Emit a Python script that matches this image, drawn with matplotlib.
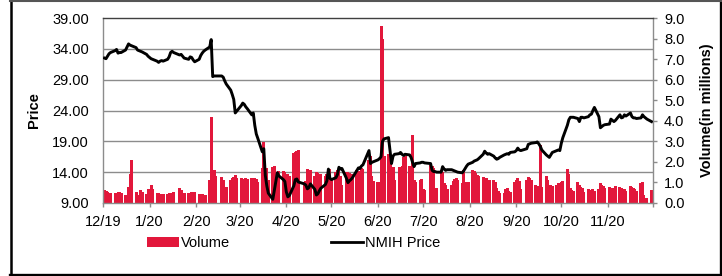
import matplotlib
matplotlib.use('Agg')
import matplotlib.pyplot as plt
import matplotlib.transforms as mtransforms
from matplotlib.patches import Patch
from matplotlib.lines import Line2D
import pandas as pd
import numpy as np

plt.rcParams['font.family'] = ['Liberation Sans', 'DejaVu Sans']

# ---------------- data ----------------
holidays = ['2019-12-25', '2020-01-01', '2020-01-20', '2020-02-17', '2020-04-10',
            '2020-05-25', '2020-07-03', '2020-09-07', '2020-11-26']
dates = pd.bdate_range('2019-12-02', '2020-11-30', freq='C', holidays=holidays)

price_dec = [32.5, 32.4, 32.8, 33.2, 33.4, 33.7, 33.9, 33.3, 33.4, 33.4, 33.8, 34.3, 34.8, 34.6, 34.5, 34.2, 33.8, 33.6, 33.5, 33.1, 32.8]
price_jan = [32.4, 32.3, 32.0, 31.8, 32.0, 32.1, 32.0, 32.3, 32.7, 33.4, 33.6, 33.4, 33.0, 33.1, 32.8, 32.5, 32.3, 32.7, 32.6, 32.2, 31.9]
price_feb = [32.3, 32.9, 33.3, 33.6, 33.8, 34.3, 35.5, 29.5, 29.6, 29.6, 29.6, 29.4, 28.8, 28.3, 27.3, 26.6, 25.8, 23.6, 23.9]
price_mar = [24.8, 25.2, 25.0, 24.6, 24.3, 23.3, 23.6, 21.6, 20.2, 19.5, 17.3, 17.8, 13.5, 11.8, 10.6, 9.6, 11.0, 12.5, 13.9, 13.4, 12.8, 12.5]
price_apr = [10.8, 10.0, 10.2, 11.8, 12.8, 12.9, 12.4, 12.1, 11.9, 11.3, 11.5, 12.1, 11.2, 10.3, 10.5, 11.0, 11.4, 12.0, 12.6, 14.5, 13.0]
price_may = [12.8, 13.1, 13.6, 14.8, 14.5, 14.6, 13.0, 12.3, 12.6, 12.8, 13.1, 14.3, 14.7, 14.6, 15.0, 15.2, 17.5, 15.4, 15.6, 15.7]
price_jun = [16.0, 16.2, 16.5, 19.0, 19.4, 19.6, 17.5, 15.4, 16.6, 16.9, 17.0, 17.2, 16.9, 16.7, 16.9, 16.8, 16.4, 15.6, 14.9, 15.4, 15.5, 15.6]
price_jul = [15.6, 15.5, 15.4, 14.3, 14.1, 14.1, 14.0, 14.0, 14.9, 14.5, 14.3, 14.4, 14.4, 14.3, 14.2, 14.1, 14.0, 13.9, 14.2, 14.6, 15.0, 15.3]
price_aug = [15.6, 15.8, 15.9, 16.0, 16.2, 16.9, 17.4, 17.1, 16.9, 17.0, 16.6, 16.3, 16.1, 16.2, 16.4, 16.8, 16.9, 17.0, 16.9, 17.2, 17.3]
price_sep = [17.5, 17.9, 17.6, 17.5, 17.8, 18.5, 18.6, 18.7, 18.8, 18.9, 18.6, 18.2, 17.6, 16.8, 16.6, 16.4, 16.8, 17.2, 17.5, 17.6, 17.5]
price_oct = [18.7, 19.6, 21.6, 22.5, 22.9, 22.9, 22.9, 22.7, 22.2, 22.9, 22.9, 22.8, 23.0, 23.3, 23.4, 24.0, 24.5, 23.0, 21.2, 21.4, 21.6, 21.7]
price_nov = [21.8, 22.6, 22.4, 22.2, 22.4, 23.3, 22.8, 22.9, 23.3, 23.1, 23.6, 23.0, 22.8, 22.8, 22.7, 22.8, 23.3, 23.0, 22.6, 22.2]

vol_dec = [0.65, 0.6, 0.55, 0.5, 0.5, 0.5, 0.45, 0.52, 0.52, 0.5, 0.4, 0.4, 0.8, 1.4, 2.1, 0.55, 0.4, 0.63, 0.55, 0.45, 0.7]
vol_jan = [0.88, 0.7, 0.47, 0.47, 0.45, 0.42, 0.45, 0.42, 0.5, 0.5, 0.5, 0.55, 0.75, 0.62, 0.5, 0.48, 0.48, 0.5, 0.55, 0.55, 0.55]
vol_feb = [0.45, 0.4, 0.42, 0.4, 0.38, 1.1, 4.2, 1.6, 1.6, 1.3, 1.25, 1.1, 0.75, 0.8, 1.1, 1.2, 1.25, 1.35, 1.2]
vol_mar = [1.2, 1.1, 1.15, 1.2, 1.15, 1.2, 1.15, 1.2, 1.15, 1.0, 1.7, 2.95, 1.7, 1.7, 1.1, 1.75, 1.8, 1.4, 1.45, 1.55, 1.55, 1.5]
vol_apr = [1.4, 1.4, 1.3, 2.45, 2.5, 2.55, 2.6, 1.0, 1.05, 1.65, 1.6, 1.6, 1.3, 1.5, 1.45, 1.35, 1.4, 1.3, 1.4, 1.3, 1.65]
vol_may = [1.2, 1.5, 1.6, 1.55, 1.3, 0.9, 1.5, 1.5, 1.45, 1.35, 1.4, 1.6, 1.55, 1.4, 1.7, 1.65, 2.1, 2.3, 1.3, 1.05]
vol_jun = [1.0, 1.0, 8.6, 8.0, 2.3, 2.4, 2.1, 1.75, 1.75, 1.1, 1.75, 1.75, 1.8, 2.25, 2.3, 1.8, 1.8, 3.3, 1.1, 1.0, 1.1, 1.15]
vol_jul = [0.7, 0.65, 1.85, 1.8, 1.7, 0.7, 0.75, 1.6, 1.5, 0.95, 0.9, 0.7, 0.9, 1.05, 1.15, 1.2, 1.1, 0.95, 1.6, 1.0, 0.95, 1.0]
vol_aug = [1.6, 1.55, 1.45, 1.35, 1.3, 1.25, 1.2, 1.2, 1.0, 1.1, 1.1, 1.0, 0.75, 0.6, 0.5, 0.5, 0.7, 0.75, 0.6, 0.55, 1.0]
vol_sep = [1.1, 1.2, 1.05, 0.7, 1.1, 1.25, 1.2, 1.1, 0.9, 0.85, 0.8, 2.8, 0.8, 1.3, 1.1, 0.7, 0.9, 0.85, 0.9, 0.95, 0.85]
vol_oct = [1.0, 1.05, 1.65, 1.4, 0.75, 0.65, 0.6, 1.0, 0.9, 0.8, 0.75, 0.55, 0.7, 0.65, 0.6, 0.7, 0.6, 0.7, 0.95, 0.9, 0.85, 0.75]
vol_nov = [0.8, 0.75, 0.7, 0.75, 0.85, 0.8, 0.75, 0.7, 0.7, 0.6, 0.85, 0.8, 0.75, 0.7, 0.6, 0.95, 1.0, 0.4, 0.25, 0.65]

price = (price_dec + price_jan + price_feb + price_mar + price_apr + price_may +
         price_jun + price_jul + price_aug + price_sep + price_oct + price_nov)
volume = (vol_dec + vol_jan + vol_feb + vol_mar + vol_apr + vol_may +
          vol_jun + vol_jul + vol_aug + vol_sep + vol_oct + vol_nov)

price_ticks = [9, 14, 19, 24, 29, 34, 39]
volume_ticks = [0, 1, 2, 3, 4, 5, 6, 7, 8, 9]
month_ticks = pd.date_range('2019-12-01', '2020-12-01', freq='MS')
month_labels = ['12/19', '1/20', '2/20', '3/20', '4/20', '5/20', '6/20',
                '7/20', '8/20', '9/20', '10/20', '11/20', '']

# ---------------- figure ----------------
W, H = 722, 276
fig = plt.figure(figsize=(W / 100, H / 100), dpi=100)
L, R, T, B = 103, 653, 18, 203
ax = fig.add_axes([L / W, 1 - B / H, (R - L) / W, (B - T) / H])

RED = '#E2173B'
GRID = '#8C8C8C'

ax.bar(dates, volume, width=2.0, color=RED, align='center', zorder=2, linewidth=0)
ax.set_ylim(0, 9)
ax.set_xlim(pd.Timestamp('2019-12-01'), pd.Timestamp('2020-12-01'))

ax2 = ax.twinx()
ax2.plot(dates, price, color='black', lw=2.1, solid_joinstyle='round', zorder=3)
ax2.set_ylim(9, 39)

# gridlines at price levels, behind bars
trans = mtransforms.blended_transform_factory(ax.transAxes, ax2.transData)
ax.hlines(price_ticks[1:-1], 0, 1, transform=trans, color=GRID, lw=1.0, zorder=1)

# axes config
ax2.yaxis.tick_left()
ax2.yaxis.set_label_position('left')
ax2.set_yticks(price_ticks)
ax2.set_yticklabels([f'{p:.2f}' for p in price_ticks])
ax2.tick_params(axis='y', length=0, pad=10, labelsize=10.5, colors='black')

ax.yaxis.tick_right()
ax.yaxis.set_label_position('right')
ax.set_yticks(volume_ticks)
ax.set_yticklabels([f'{v:.1f}' for v in volume_ticks])
ax.tick_params(axis='y', direction='out', length=3, width=1, color=GRID, pad=5, labelsize=10.5)

ax.set_xticks(month_ticks)
ax.set_xticklabels(month_labels)
ax.tick_params(axis='x', direction='out', length=3, width=1, color=GRID, pad=6, labelsize=10.5)

for s in ['left', 'right', 'bottom']:
    ax.spines[s].set_color(GRID)
    ax.spines[s].set_linewidth(1.0)
ax.spines['top'].set_color('#404040')
ax.spines['top'].set_linewidth(1.0)
for s in ax2.spines.values():
    s.set_visible(False)

ax2.set_ylabel('Price', fontsize=10.5, fontweight='bold')
ax2.yaxis.set_label_coords((41 - L) / (R - L), 0.5)
ax.set_ylabel('Volume(in millions)', fontsize=10.5, fontweight='bold', rotation=90)
ax.yaxis.set_label_coords((700 - L) / (R - L), 0.5)

handles = [Patch(facecolor=RED, edgecolor='none'),
           Line2D([], [], color='black', lw=2.0)]
fig.legend(handles, ['Volume', 'NMIH Price'], loc='center left',
           bbox_to_anchor=(147 / W, 1 - 243 / H), ncol=2, frameon=False,
           handlelength=2.2, handletextpad=0.15, columnspacing=6.9,
           fontsize=10.5, borderaxespad=0, borderpad=0)

# outer frame
fig.add_artist(Line2D([10.5 / W, 10.5 / W], [0, 1], transform=fig.transFigure, color='black', lw=1.8))
fig.add_artist(Line2D([720.5 / W, 720.5 / W], [0, 1], transform=fig.transFigure, color='black', lw=2.4))
fig.add_artist(Line2D([10 / W, 1], [1.5 / H, 1.5 / H], transform=fig.transFigure, color='black', lw=2.4))
fig.add_artist(Line2D([10 / W, 1], [1 - 1 / H, 1 - 1 / H], transform=fig.transFigure, color='#555555', lw=1.5))

fig.savefig('out.png', dpi=100)
